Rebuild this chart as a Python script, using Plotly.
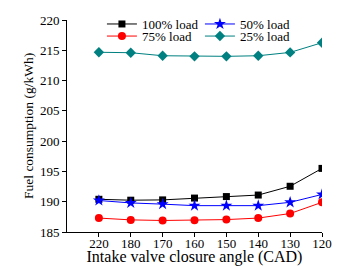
import plotly.graph_objects as go

angles = ["220", "180", "170", "160", "150", "140", "130", "120"]
load100 = [190.4, 190.25, 190.3, 190.6, 190.85, 191.1, 192.55, 195.5]
load50 = [190.2, 189.8, 189.6, 189.35, 189.35, 189.35, 189.9, 191.2]
load75 = [187.3, 187.0, 186.9, 186.95, 187.05, 187.3, 188.05, 189.9]
load25 = [214.67, 214.6, 214.1, 214.0, 214.0, 214.1, 214.65, 216.25]

series = [
    ("100% load", load100, "black", "square", 7, "legend"),
    ("50% load", load50, "blue", "star", 9, "legend"),
    ("75% load", load75, "red", "circle", 8, "legend2"),
    ("25% load", load25, "#008080", "diamond", 8, "legend2"),
]

fig = go.Figure()
for name, vals, color, sym, size, leg in series:
    fig.add_trace(go.Scatter(
        x=list(range(len(angles))), y=vals, name=name, mode="lines+markers",
        line=dict(color=color, width=1),
        marker=dict(symbol=sym, size=size, color=color),
        legend=leg,
    ))

font = dict(family="Liberation Serif, Times New Roman, serif", size=13, color="black")
legcommon = dict(orientation="h", x=0.137, xanchor="left", yanchor="middle",
                 entrywidth=53, entrywidthmode="pixels",
                 bgcolor="rgba(0,0,0,0)", font=dict(size=13))
fig.update_layout(
    width=364, height=266,
    margin=dict(l=67, r=42, t=20, b=34, autoexpand=False),
    paper_bgcolor="white", plot_bgcolor="white",
    font=font,
    showlegend=True,
    legend=dict(y=0.981, **legcommon),
    legend2=dict(y=0.924, **legcommon),
    annotations=[dict(text="Fuel consumption (g/kWh)", textangle=-90,
                      x=0, xref="paper", xshift=-39, xanchor="center",
                      y=0.5, yref="paper", yanchor="middle",
                      showarrow=False, font=dict(size=13.5))],
)
fig.update_xaxes(
    range=[-1, 7], tickmode="array", tickvals=list(range(len(angles))), ticktext=angles,
    showline=True, linecolor="black", linewidth=1, ticks="outside", ticklen=4,
    tickcolor="black", showgrid=False, zeroline=False, automargin=False,
    ticklabelstandoff=-5,
    title=dict(text="Intake valve closure angle (CAD)", standoff=0),
)
fig.update_yaxes(
    range=[185, 220], tickvals=[185, 190, 195, 200, 205, 210, 215, 220],
    showline=True, linecolor="black", linewidth=1, ticks="outside", ticklen=4,
    tickcolor="black", showgrid=False, zeroline=False, automargin=False,
)
fig.write_html("out.html", config={"displayModeBar": False},
               post_script="document.body.style.margin='0';document.body.style.overflow='hidden';")
